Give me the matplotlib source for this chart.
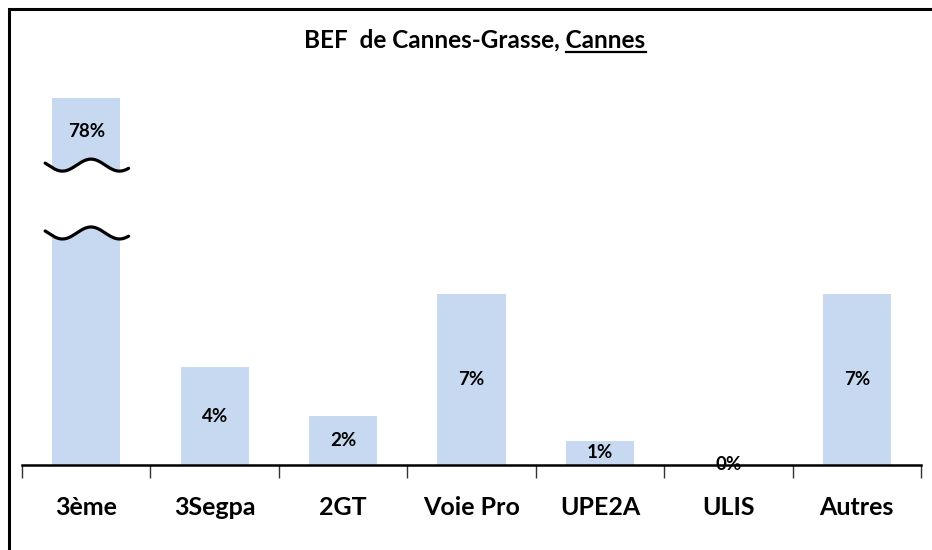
import matplotlib.pyplot as plt
import numpy as np

categories = ["3ème", "3Segpa", "2GT", "Voie Pro", "UPE2A", "ULIS", "Autres"]
values = [78, 4, 2, 7, 1, 0, 7]
value_labels = ["78%", "4%", "2%", "7%", "1%", "0%", "7%"]

# axis is cut for the tallest bar
y_max = 15.0
break_low = 9.47
break_high = 12.24

bar_color = "#C6D9F0"
plt.rcParams["font.family"] = ["Lato", "DejaVu Sans"]

fig = plt.figure(figsize=(9.32, 5.5), dpi=100)
fig.patch.set_facecolor("white")

# frame around the chart: only left and top edges show in the picture
fx, fy = 9 / 932, 1 - 9 / 550
fig.add_artist(plt.Line2D([fx, fx, 1.0], [0.0, fy, fy], transform=fig.transFigure,
                          color="black", linewidth=2.2, solid_joinstyle="miter"))

ax = fig.add_axes([22 / 932, 85 / 550, 899 / 932, 367.5 / 550])
x = np.arange(len(categories))
shown = [min(v, y_max) for v in values]
ax.bar(x, shown, width=0.53, color=bar_color, zorder=1)

ax.set_xlim(-0.5, len(categories) - 0.5)
ax.set_ylim(0, y_max)
for s in ["top", "right", "left"]:
    ax.spines[s].set_visible(False)
ax.spines["bottom"].set_linewidth(1.8)
ax.spines["bottom"].set_zorder(5)
ax.set_yticks([])
ax.set_xticks(np.arange(-0.5, len(categories)))
ax.set_xticklabels([])
ax.tick_params(axis="x", direction="out", length=9, width=1.0, color="#333333")
ax.patch.set_alpha(0)

# category names
for i, c in enumerate(categories):
    ax.text(i, -1.75, c, ha="center", va="center", fontsize=18,
            fontweight="bold", clip_on=False)

# break symbol on the first bar
wx = np.linspace(-0.32, 0.33, 200)
wave = -0.245 * np.cos(2 * np.pi * (wx + 0.185) / 0.444)
ax.fill_between(wx, break_low + wave, break_high + wave, color="white", zorder=2)
ax.plot(wx, break_low + wave, color="black", linewidth=2.3, zorder=3,
        solid_capstyle="round")
ax.plot(wx, break_high + wave, color="black", linewidth=2.3, zorder=3,
        solid_capstyle="round")

# value labels
for i, (v, h) in enumerate(zip(values, shown)):
    if v > y_max:
        ly = (y_max + break_high) / 2
    else:
        ly = h / 2
    ax.text(i, ly, value_labels[i], ha="center", va="center", fontsize=13.5,
            fontweight="bold", zorder=6)

# title with the last word underlined
title = fig.text(475 / 932, 1 - 40 / 550, "BEF  de Cannes-Grasse, Cannes",
                 ha="center", va="center", fontsize=17.5, fontweight="bold")
fig.canvas.draw()
r = fig.canvas.get_renderer()
tb = title.get_window_extent(r)
probe = fig.text(0, 0, "Cannes", fontsize=17.5, fontweight="bold")
pw = probe.get_window_extent(r).width
probe.remove()
uy = (tb.y0 - 0.5) / 550
fig.add_artist(plt.Line2D([(tb.x1 - pw) / 932, tb.x1 / 932], [uy, uy],
                          transform=fig.transFigure, color="black", linewidth=1.6))

fig.savefig("out.png", dpi=100)
